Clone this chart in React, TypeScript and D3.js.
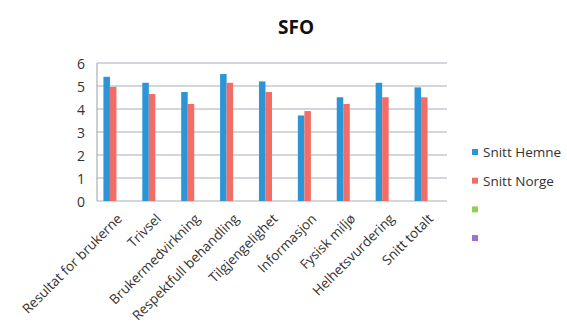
import * as d3 from "d3";

const WIDTH = 567;
const HEIGHT = 327;
const MARGIN = { top: 63, right: 120, bottom: 126, left: 97 };

const categories = [
  "Resultat for brukerne",
  "Trivsel",
  "Brukermedvirkning",
  "Respektfull behandling",
  "Tilgjengelighet",
  "Informasjon",
  "Fysisk miljø",
  "Helhetsvurdering",
  "Snitt totalt",
];
const snittHemne = [5.4, 5.14, 4.74, 5.52, 5.2, 3.72, 4.51, 5.14, 4.94];
const snittNorge = [4.96, 4.65, 4.22, 5.14, 4.74, 3.91, 4.22, 4.51, 4.51];
const yTicks = [0, 1, 2, 3, 4, 5, 6];

const series = [
  { name: "Snitt Hemne", color: "#2b95d8", values: snittHemne },
  { name: "Snitt Norge", color: "#f26d65", values: snittNorge },
  { name: "", color: "#92d050", values: [] as number[] },
  { name: "", color: "#9b72c8", values: [] as number[] },
];

const FONT = "'Open Sans', 'Noto Sans', sans-serif";

export default function App() {
  const boundsWidth = WIDTH - MARGIN.left - MARGIN.right;
  const boundsHeight = HEIGHT - MARGIN.top - MARGIN.bottom;

  const xScale = d3.scaleBand().domain(categories).range([0, boundsWidth]);
  const groupWidth = xScale.bandwidth() * 0.67;
  const innerScale = d3
    .scaleBand()
    .domain(series.map((_, i) => String(i)))
    .range([0, groupWidth]);
  const yScale = d3.scaleLinear().domain([0, 6]).range([boundsHeight, 0]);

  return (
    <svg
      width={WIDTH}
      height={HEIGHT}
      style={{ position: "absolute", left: 0, top: 0, background: "white" }}
      fontFamily={FONT}
    >
      <text
        x={296}
        y={34}
        textAnchor="middle"
        fontSize={19}
        fontWeight="bold"
        fill="#111"
      >
        SFO
      </text>
      <g transform={`translate(${MARGIN.left},${MARGIN.top})`}>
        {yTicks.map((t) => (
          <g key={t}>
            <line
              x1={0}
              x2={boundsWidth}
              y1={yScale(t)}
              y2={yScale(t)}
              stroke="#a8adb5"
              strokeWidth={1.2}
            />
            <text
              x={-12}
              y={yScale(t)}
              textAnchor="end"
              dominantBaseline="central"
              fontSize={14}
              fill="#333"
            >
              {t}
            </text>
          </g>
        ))}
        <line x1={0} x2={0} y1={0} y2={boundsHeight} stroke="#a8adb5" strokeWidth={1.2} />
        {categories.map((c, ci) => {
          const x0 = (xScale(c) ?? 0) + (xScale.bandwidth() - groupWidth) / 2;
          return (
            <g key={c}>
              {series.map((s, si) =>
                s.values.length ? (
                  <rect
                    key={si}
                    x={x0 + (innerScale(String(si)) ?? 0)}
                    width={innerScale.bandwidth()}
                    y={yScale(s.values[ci])}
                    height={yScale(0) - yScale(s.values[ci])}
                    fill={s.color}
                  />
                ) : null
              )}
              <text
                transform={`translate(${(xScale(c) ?? 0) + xScale.bandwidth() / 2 + 3},${boundsHeight + 15}) rotate(-45)`}
                textAnchor="end"
                dominantBaseline="central"
                fontSize={13.5}
                fill="#333"
              >
                {c}
              </text>
            </g>
          );
        })}
      </g>
      {series.map((s, i) => (
        <g key={i} transform={`translate(472,${152 + i * 28.7})`}>
          <rect x={0} y={-3} width={6} height={6} fill={s.color} />
          <text x={11} y={0} dominantBaseline="central" fontSize={13.5} fill="#333">
            {s.name}
          </text>
        </g>
      ))}
    </svg>
  );
}
